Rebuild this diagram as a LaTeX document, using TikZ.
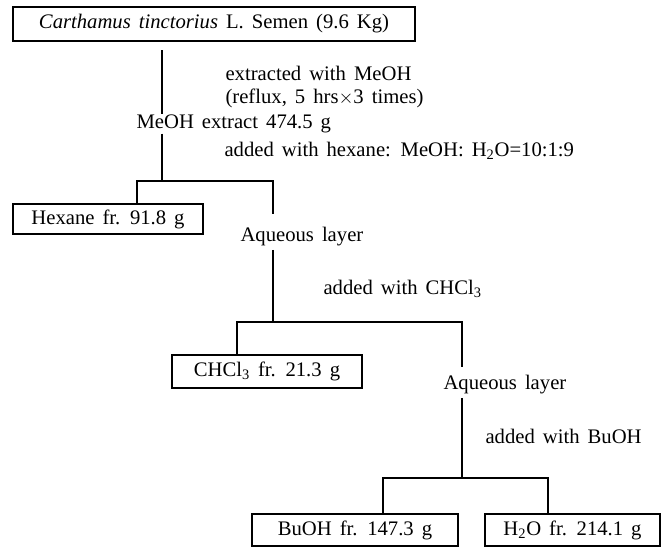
\documentclass[tikz,border=0pt]{standalone}
\usepackage{fontspec}
\setmainfont{Liberation Serif}[WordSpace=1.55]
\usepackage{tikz}
\tikzstyle{fraction} = [draw, inner sep=0pt]
\tikzstyle{step text} = [anchor=west, inner sep=0pt]

\begin{document}
\begin{tikzpicture}[x=0.75pt, y=-0.75pt, font=\fontsize{15.5}{18}\selectfont, line width=0.8pt]
		\useasboundingbox (0,0) rectangle (668,551);

		% fractions
		\node[fraction, minimum width=402*0.75pt, minimum height=34*0.75pt] (seed) at (214,24) {\textit{Carthamus tinctorius} L. Semen (9.6 Kg)};
		\node[fraction, minimum width=190*0.75pt, minimum height=30*0.75pt] (hexfr) at (108,219) {Hexane fr. 91.8 g};
		\node[fraction, minimum width=190*0.75pt, minimum height=33*0.75pt] (chlfr) at (267,371.5) {CHCl\textsubscript{3} fr. 21.3 g};
		\node[fraction, minimum width=206*0.75pt, minimum height=32*0.75pt] (bufr) at (355,530) {BuOH fr. 147.3 g};
		\node[fraction, minimum width=175*0.75pt, minimum height=32*0.75pt] (wfr) at (572.5,530) {H\textsubscript{2}O fr. 214.1 g};

		% steps
		\node[step text] (ext) at (225,73) {extracted with MeOH};
		\node[step text] (reflux) at (225,98) {(reflux, 5 hrs$\times$3 times)};
		\node[step text] (meoh) at (136,124) {MeOH extract 474.5 g};
		\node[step text] (addhex) at (224,151) {added with hexane: MeOH: H\textsubscript{2}O=10:1:9};
		\node[step text] (aq1) at (240,237) {Aqueous layer};
		\node[step text] (addchl) at (323,289) {added with CHCl\textsubscript{3}};
		\node[step text] (aq2) at (443,385) {Aqueous layer};
		\node[step text] (addbu) at (485,436) {added with BuOH};

		% branch points
		\coordinate (s1) at (162,50);
		\coordinate (j1) at (162,181);
		\coordinate (l1) at (137,181);
		\coordinate (r1) at (273,181);
		\coordinate (j2) at (273,322);
		\coordinate (l2) at (237,322);
		\coordinate (r2) at (462,322);
		\coordinate (j3) at (462,478);
		\coordinate (l3) at (383,478);
		\coordinate (r3) at (548,478);

		\draw (s1) -- (s1 |- meoh.north);
		\draw (s1 |- meoh.south) -- (j1);
		\draw (l1 |- hexfr.north) -- (l1) -- (r1) -- ++(0,33);
		\draw (r1 |- aq1.south) ++(0,3) -- (j2);
		\draw (l2 |- chlfr.north) -- (l2) -- (r2) -- ++(0,45);
		\draw (r2 |- aq2.south) ++(0,3) -- (j3);
		\draw (l3 |- bufr.north) -- (l3) -- (r3) -- (r3 |- wfr.north);
	\end{tikzpicture}
\end{document}
